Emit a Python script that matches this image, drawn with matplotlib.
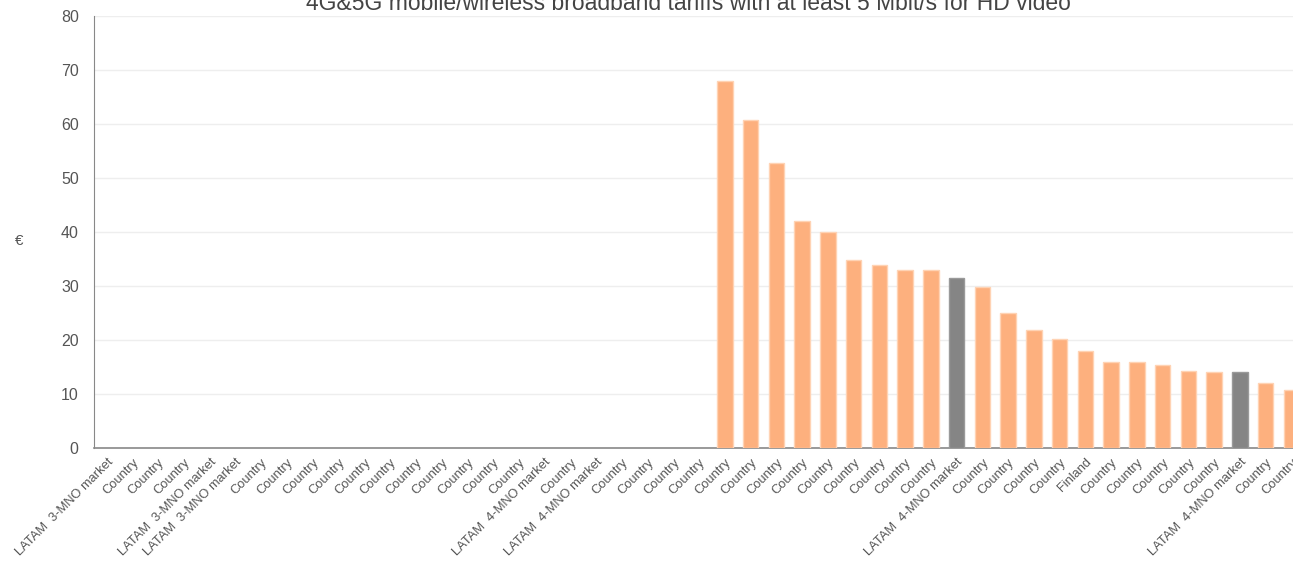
import matplotlib.pyplot as plt
import numpy as np

plt.rcParams['font.family'] = ['Liberation Sans', 'DejaVu Sans']

# --- Data ---
categories = (
    ['LATAM  3-MNO market', 'Country', 'Country', 'Country',
     'LATAM  3-MNO market', 'LATAM  3-MNO market']
    + ['Country'] * 11
    + ['LATAM  4-MNO market', 'Country', 'LATAM  4-MNO market']
    + ['Country'] * 4
    + ['Country'] * 9
    + ['LATAM  4-MNO market']
    + ['Country'] * 4
    + ['Finland']
    + ['Country'] * 5
    + ['LATAM  4-MNO market', 'Country', 'Country']
)
# empty categories have no value
values = ([np.nan] * 24 +
          [68.0, 60.8, 52.7, 42.0, 40.0, 34.9, 33.9, 33.0, 33.0, 31.5,
           29.8, 25.0, 21.9, 20.1, 18.0, 15.9, 15.9, 15.4, 14.2, 14.0,
           14.0, 12.0, 10.8])
is_benchmark = [c.startswith('LATAM') for c in categories]

title = "4G&5G mobile/wireless broadband tariffs with at least 5 Mbit/s for HD video"

# --- Plot ---
fig = plt.figure(figsize=(12.93, 5.62), dpi=100)
ax = fig.add_axes([94 / 1293, (562 - 448) / 562, 1 - 94 / 1293, (448 - 16) / 562])

x = np.arange(len(categories))
vals = np.array(values, dtype=float)
has_val = ~np.isnan(vals)
colors = np.array(['#858585' if b else '#FDB07E' for b in is_benchmark])
edges = np.array(['#9A9A9A' if b else '#FFD3B4' for b in is_benchmark])
ax.bar(x[has_val], vals[has_val], width=0.6, color=colors[has_val],
       edgecolor=edges[has_val], linewidth=1, zorder=3)

ax.set_xlim(-0.5, 46.06)
ax.set_ylim(0, 80)
ax.set_yticks(np.arange(0, 81, 10))
ax.grid(axis='y', color='#EEEEEE', linewidth=1, zorder=0)
ax.set_axisbelow(True)

ax.set_xticks(x)
ax.set_xticklabels(categories, rotation=45, ha='right', rotation_mode='anchor',
                   fontsize=9.3, color='#555555')
ax.tick_params(axis='x', length=0, pad=6)
ax.tick_params(axis='y', length=0, pad=11, labelsize=11.5, labelcolor='#555555')

for s in ['top', 'right']:
    ax.spines[s].set_visible(False)
ax.spines['left'].set_color('#888888')
ax.spines['bottom'].set_color('#888888')
ax.spines['bottom'].set_linewidth(1.2)

fig.text(19 / 1293, 1 - 241 / 562, '€', fontsize=11, color='#555555',
         ha='center', va='center')
fig.text(688 / 1293, 1 - 10 / 562, title, fontsize=16.5, color='#444444',
         ha='center', va='baseline')

fig.savefig('out.png', dpi=100)
